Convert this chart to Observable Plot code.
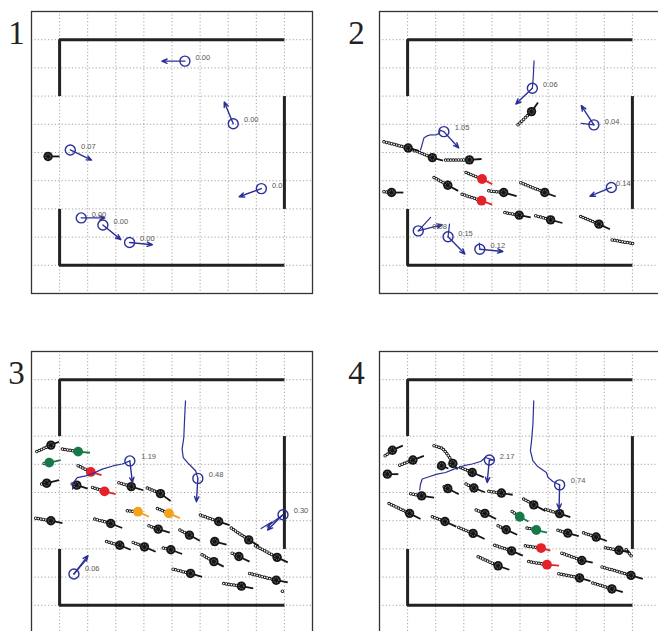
<!DOCTYPE html>
<html><head><meta charset="utf-8">
<script src="https://cdn.jsdelivr.net/npm/d3@7"></script>
<script src="https://cdn.jsdelivr.net/npm/@observablehq/plot@0.6"></script>
<style>
html,body{margin:0;padding:0;overflow:hidden;background:#fff;}
#wrap{position:relative;width:658px;height:631px;overflow:hidden;background:#fff;}
.panel{position:absolute;width:330px;height:315px;}
.panel svg{max-width:none !important;}
</style></head><body><div id="wrap"></div>
<script>
// ---- shared room geometry (room units, y up) ----
const gridTicks = [1,2,3,4,5,6,7,8,9];
const wallTop = [[1,7],[1,9],[9,9]];
const wallBottom = [[1,3],[1,1],[9,1]];
const wallRight = [[9,3],[9,7]];
const panelLabels = ["1","2","3","4"];

// ---- agents: [x, y, arrowX, arrowY, label, labelX, labelY] ----
const agents1 = [
  [5.46,8.24, 4.64,8.24, "0.00", 5.84,8.36],
  [7.18,6.02, 6.86,6.79, "0.00", 7.56,6.18],
  [1.38,5.09, 2.14,4.73, "0.07", 1.76,5.22],
  [8.18,3.72, 7.39,3.43, "0.0",  8.56,3.84],
  [1.77,2.68, 2.61,2.68, "0.00", 2.14,2.81],
  [2.54,2.43, 3.18,1.91, "0.00", 2.92,2.56],
  [3.49,1.81, 4.30,1.73, "0.00", 3.86,1.95]
];
const agents2 = [
  [5.44,7.28, 4.85,6.72, "0.06", 5.82,7.42],
  [7.63,5.98, 7.18,6.66, "0.04", 8.02,6.10],
  [2.29,5.74, 2.82,5.16, "1.05", 2.68,5.88],
  [8.25,3.76, 7.49,3.45, "0.14", 8.42,3.89],
  [1.38,2.22, 2.23,2.44, "0.08", 1.88,2.37],
  [2.44,2.01, 3.04,1.40, "0.15", 2.80,2.13],
  [3.57,1.57, 4.39,1.49, "0.12", 3.95,1.71]
];
const agents3 = [
  [3.50,6.12, 3.59,5.35, "1.19", 3.91,6.26],
  [5.92,5.50, 5.87,4.67, "0.48", 6.31,5.64],
  [8.95,4.21, 8.40,3.67, "0.30", 9.33,4.35],
  [1.51,2.11, 2.01,2.76, "0.06", 1.90,2.29]
];
const agents4 = [
  [3.91,6.15, 3.83,5.35, "2.17", 4.28,6.29],
  [6.41,5.27, 6.39,4.41, "0.74", 6.81,5.42]
];

// ---- agent walking paths ----
const paths1 = [];
const paths2 = [
  [[5.50,8.25],[5.47,7.65],[5.44,7.28]],
  [[7.18,6.03],[7.63,5.98]],
  [[1.46,5.09],[1.52,5.30],[1.58,5.51],[1.70,5.59],[1.82,5.63],[2.00,5.62],[2.11,5.67],[2.17,5.79],[2.29,5.74]],
  [[1.82,2.70],[1.38,2.22]],
  [[2.49,2.46],[2.44,2.01]],
  [[3.55,1.79],[3.57,1.57]]
];
const paths3 = [
  [[1.46,5.12],[1.49,5.35],[1.63,5.53],[1.93,5.59],[2.17,5.67],[2.52,5.83],[2.93,5.95],[3.23,6.01],[3.50,6.12]],
  [[5.48,8.25],[5.45,7.66],[5.42,6.95],[5.36,6.54],[5.40,6.24],[5.60,6.01],[5.84,5.77],[5.92,5.50]],
  [[8.17,3.72],[8.55,3.95],[8.38,3.78],[8.74,4.06],[8.95,4.21]],
  [[1.95,2.62],[1.51,2.11]]
];
const paths4 = [
  [[1.43,5.09],[1.46,5.30],[1.52,5.48],[1.76,5.56],[2.05,5.65],[2.35,5.71],[2.65,5.83],[3.00,5.95],[3.30,6.01],[3.60,6.10],[3.77,6.24],[4.07,6.15],[3.91,6.15]],
  [[5.49,8.25],[5.46,7.42],[5.41,6.83],[5.37,6.48],[5.46,6.12],[5.64,5.91],[5.94,5.71],[6.00,5.53],[6.17,5.39],[6.41,5.27]]
];

// ---- robots: [x, y, trailStartX, trailStartY, headX, headY, group] ----
const robots1 = [
  [0.59,4.86, 0.59,4.86, 1.00,4.86, "k"]
];
const robots2 = [
  [5.41,6.45, 4.93,5.98, 5.64,6.77, "k"],
  [1.02,5.16, 0.16,5.38, 1.40,5.06, "k"],
  [1.88,4.82, 1.17,5.10, 2.26,4.71, "k"],
  [3.20,4.74, 2.35,4.73, 3.63,4.77, "k"],
  [3.65,4.06, 3.08,4.29, 4.01,3.88, "r"],
  [2.43,3.84, 1.94,4.11, 2.80,3.64, "k"],
  [3.63,3.29, 2.94,3.52, 4.01,3.15, "r"],
  [4.42,3.58, 3.89,3.64, 4.88,3.45, "k"],
  [5.88,3.58, 5.03,3.93, 6.27,3.44, "k"],
  [0.43,3.58, 0.16,3.61, 0.85,3.58, "k"],
  [4.97,2.78, 4.46,2.87, 5.38,2.70, "k"],
  [6.09,2.61, 5.56,2.76, 6.51,2.50, "k"],
  [7.81,2.46, 7.16,2.73, 8.20,2.28, "k"]
];
const robots3 = [
  [0.69,6.68, 0.19,6.45, 0.98,6.80, "k"],
  [1.66,6.45, 1.10,6.54, 2.08,6.41, "g"],
  [0.63,6.06, 0.45,6.03, 1.04,6.15, "g"],
  [2.11,5.73, 1.66,5.95, 2.49,5.62, "r"],
  [0.54,5.33, 0.36,5.30, 0.98,5.44, "k"],
  [1.61,5.26, 1.45,5.30, 2.00,5.14, "k"],
  [2.60,5.04, 2.17,5.18, 2.99,4.94, "r"],
  [3.55,5.21, 3.11,5.35, 3.98,5.08, "k"],
  [4.59,4.96, 4.12,5.16, 4.95,4.70, "k"],
  [3.79,4.32, 3.41,4.35, 4.18,4.14, "o"],
  [4.89,4.26, 4.48,4.43, 5.28,4.09, "o"],
  [0.69,4.00, 0.15,4.09, 1.10,3.91, "k"],
  [2.82,3.90, 2.25,4.06, 3.23,3.74, "k"],
  [4.51,3.70, 4.18,3.82, 4.92,3.58, "k"],
  [6.66,3.97, 6.01,4.20, 7.05,3.84, "k"],
  [5.62,3.49, 5.28,3.67, 5.99,3.29, "k"],
  [6.52,3.26, 6.45,3.28, 6.94,3.15, "k"],
  [7.73,3.32, 7.11,3.74, 8.09,3.11, "k"],
  [3.14,3.13, 2.67,3.26, 3.53,2.97, "k"],
  [4.02,3.07, 3.62,3.23, 4.42,2.90, "k"],
  [4.96,2.97, 4.69,3.03, 5.36,2.82, "k"],
  [6.49,2.55, 6.07,2.79, 6.84,2.37, "k"],
  [7.38,2.73, 7.14,2.85, 7.76,2.55, "k"],
  [8.74,2.70, 7.97,3.11, 9.12,2.52, "k"],
  [5.66,2.13, 5.04,2.28, 6.07,2.01, "k"],
  [8.71,1.89, 7.76,2.13, 9.12,1.81, "k"],
  [7.47,1.68, 6.84,1.77, 7.89,1.60, "k"]
];
const robots4 = [
  [0.46,6.50, 0.20,6.30, 0.83,6.66, "k"],
  [1.19,6.15, 0.72,5.97, 1.58,6.30, "k"],
  [0.28,5.65, 0.28,5.65, 0.67,5.65, "k"],
  [2.21,5.95, 2.10,5.90, 2.45,5.85, "k"],
  [2.61,6.03, 2.61,6.03, 2.78,5.82, "k"],
  [3.30,5.71, 2.88,5.89, 3.71,5.54, "k"],
  [2.43,5.14, 2.30,5.20, 2.82,4.94, "k"],
  [3.36,5.16, 3.08,5.30, 3.75,5.01, "k"],
  [4.34,4.98, 3.89,5.04, 4.74,4.92, "k"],
  [1.50,4.88, 1.11,4.96, 1.94,4.82, "k"],
  [1.07,4.26, 0.34,4.61, 1.46,4.06, "k"],
  [2.33,3.97, 1.88,4.14, 2.73,3.79, "k"],
  [3.33,3.55, 2.82,3.76, 3.74,3.35, "k"],
  [3.75,4.26, 3.44,4.38, 4.15,4.06, "k"],
  [4.51,3.68, 4.22,3.82, 4.90,3.50, "k"],
  [4.70,2.93, 4.10,3.13, 5.10,2.76, "k"],
  [4.22,2.40, 3.51,2.72, 4.62,2.26, "k"],
  [5.49,4.56, 5.13,4.77, 5.90,4.35, "k"],
  [4.99,4.14, 4.72,4.33, 5.30,3.97, "g"],
  [5.58,3.67, 5.25,3.74, 5.96,3.58, "g"],
  [5.75,3.03, 5.19,3.11, 6.08,2.94, "r"],
  [5.96,2.44, 5.31,2.55, 6.39,2.41, "r"],
  [6.41,4.25, 5.91,4.40, 6.79,4.13, "k"],
  [6.70,3.56, 6.35,3.66, 7.09,3.45, "k"],
  [7.71,3.42, 7.26,3.57, 8.09,3.28, "k"],
  [8.52,2.95, 8.04,3.04, 8.89,2.89, "k"],
  [7.20,2.59, 6.49,2.85, 7.59,2.51, "k"],
  [7.12,1.97, 6.38,2.12, 7.51,1.86, "k"],
  [8.95,2.06, 7.92,2.36, 9.37,1.94, "k"],
  [8.27,1.58, 7.59,1.79, 8.66,1.47, "k"]
];

// ---- trails left by robots that are no longer shown ----
const extra1 = [];
const extra2 = [ [[8.28,1.90],[9.03,1.77]] ];
const extra3 = [ [[8.93,1.50],[8.95,1.49]] ];
const extra4 = [
  [[1.94,6.66],[2.23,6.57],[2.40,6.38],[2.53,6.18],[2.61,6.03]],
  [[8.78,2.97],[9.01,2.69]]
];

// ---- styling ----
const groupColor = {k:"#151515", r:"#e52129", g:"#17794a", o:"#f4a11c"};
const NAVY = "#2b3097";
const trailOuter = {stroke:"#111", strokeWidth:3.5, strokeDasharray:"0,2.6", strokeLinecap:"round"};
const trailInner = {stroke:"#fff", strokeWidth:1.7, strokeDasharray:"0,2.6", strokeLinecap:"round"};

function makePanel(num, agents, paths, robots, extra, left, top, numDx) {
  const pathRows = paths.flatMap((p, i) => p.map(([x, y]) => ({i, x, y})));
  const extraRows = extra.flatMap((p, i) => p.map(([x, y]) => ({i, x, y})));
  const wall = (pts) => Plot.line(pts, {x: d => d[0], y: d => d[1], stroke: "#222", strokeWidth: 3, strokeLinejoin: "miter", strokeLinecap: "butt"});
  const trailLink = (o) => Plot.link(robots, {x1: d => d[2], y1: d => d[3], x2: d => d[0], y2: d => d[1], ...o});
  const chart = Plot.plot({
    width: 330, height: 315,
    marginLeft: 31, marginTop: 11, marginRight: 18, marginBottom: 22,
    x: {domain: [0, 10], axis: null},
    y: {domain: [0, 10], axis: null},
    style: {background: "transparent"},
    marks: [
      Plot.gridX(gridTicks, {stroke: "#9a9a9a", strokeOpacity: 1, strokeWidth: 0.9, strokeDasharray: "1.2,2.2"}),
      Plot.gridY(gridTicks, {stroke: "#9a9a9a", strokeOpacity: 1, strokeWidth: 0.9, strokeDasharray: "1.2,2.2"}),
      Plot.frame({stroke: "#333", strokeWidth: 1.3}),
      wall(wallTop), wall(wallBottom), wall(wallRight),
      trailLink(trailOuter),
      Plot.line(extraRows, {x: "x", y: "y", z: "i", ...trailOuter}),
      trailLink(trailInner),
      Plot.line(extraRows, {x: "x", y: "y", z: "i", ...trailInner}),
      ...Object.keys(groupColor).map(g => Plot.link(robots.filter(d => d[6] === g), {
        x1: d => d[0], y1: d => d[1], x2: d => d[4], y2: d => d[5],
        stroke: groupColor[g], strokeWidth: 1.8})),
      ...Object.keys(groupColor).map(g => Plot.dot(robots.filter(d => d[6] === g), {
        x: d => d[0], y: d => d[1], r: g === "k" ? 4.7 : 4.9, fill: groupColor[g], stroke: "none"})),
      Plot.dot(robots.filter(d => d[6] === "k"), {x: d => d[0], y: d => d[1], r: 2.5, fill: "none", stroke: "#aaa", strokeWidth: 0.8, strokeDasharray: "0.9,1.1"}),
      Plot.line(pathRows, {x: "x", y: "y", z: "i", stroke: NAVY, strokeWidth: 1.2}),
      Plot.arrow(agents, {x1: d => d[0], y1: d => d[1], x2: d => d[2], y2: d => d[3], stroke: NAVY, strokeWidth: 1.4, headLength: 6, headAngle: 45}),
      Plot.dot(agents, {x: d => d[0], y: d => d[1], r: 5, fill: "none", stroke: NAVY, strokeWidth: 1.4}),
      Plot.text(agents, {x: d => d[5], y: d => d[6], text: d => d[4], textAnchor: "start", lineAnchor: "middle",
        fontSize: 7.5, fill: "#555", opacity: 0.99, fontFamily: "Liberation Sans, Arial, sans-serif"}),
      Plot.text([num], {frameAnchor: "top-left", text: d => d, dx: numDx, dy: 22, textAnchor: "middle", lineAnchor: "middle",
        fontSize: 33, fill: "#222", fontFamily: "Liberation Serif, Times New Roman, serif"})
    ]
  });
  const div = document.createElement("div");
  div.className = "panel";
  div.style.left = left + "px";
  div.style.top = top + "px";
  div.appendChild(chart);
  document.getElementById("wrap").appendChild(div);
}

makePanel(panelLabels[0], agents1, paths1, robots1, extra1, 0, 0, -15);
makePanel(panelLabels[1], agents2, paths2, robots2, extra2, 348, 0, -23);
makePanel(panelLabels[2], agents3, paths3, robots3, extra3, 0, 340, -15);
makePanel(panelLabels[3], agents4, paths4, robots4, extra4, 348, 340, -23);
</script></body></html>
